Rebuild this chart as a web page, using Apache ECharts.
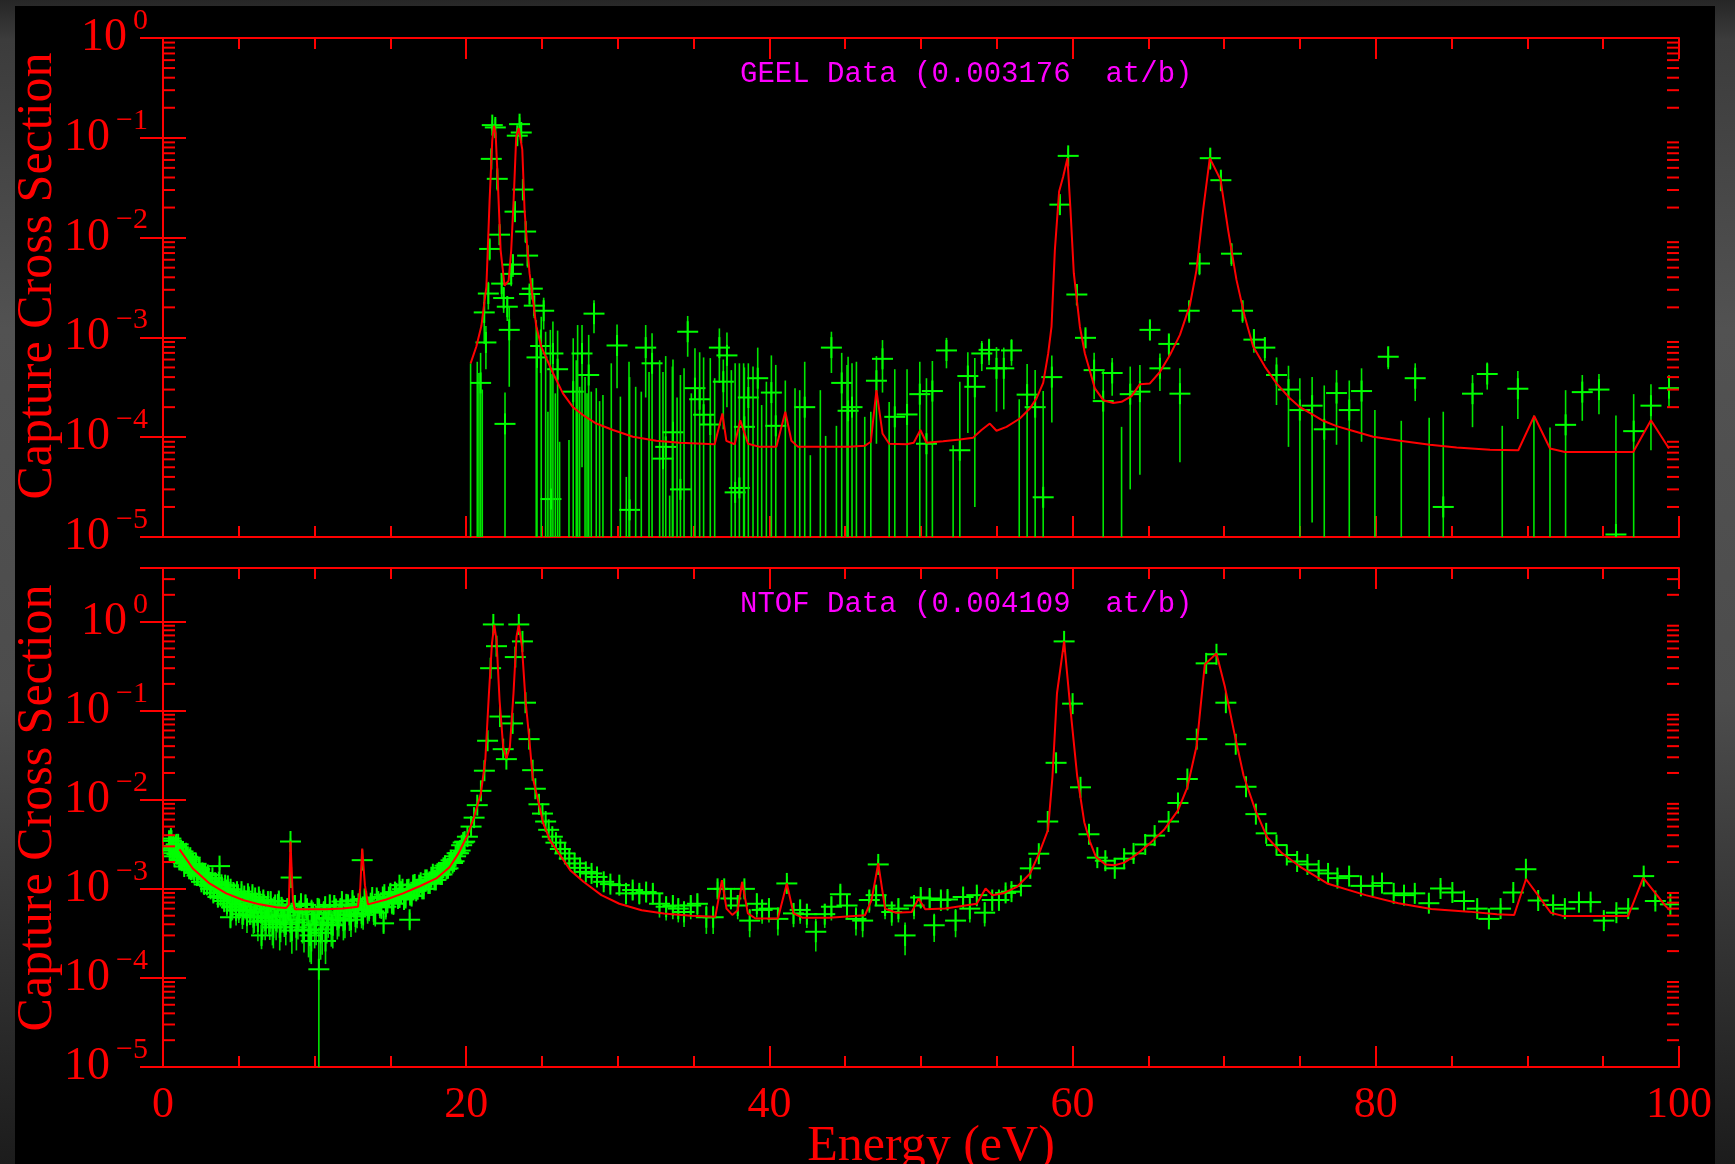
<!DOCTYPE html>
<html><head><meta charset="utf-8">
<script src="https://cdn.jsdelivr.net/npm/echarts@6/dist/echarts.min.js"></script>
<style>
html,body{margin:0;padding:0;width:1735px;height:1164px;overflow:hidden;
background:linear-gradient(to bottom,#262626 0px,#3c3c3c 40px,#525252 330px,#4c4c4c 700px,#1c1c1c 1164px);}
#blk{position:absolute;left:15px;top:6px;width:1700px;height:1158px;background:#000;}
#chart{position:absolute;left:0;top:0;width:1735px;height:1164px;}
</style></head><body><div id="blk"></div><div id="chart"></div>
<script>
// ---------------- GEEL (top panel) data: energy, value, upper end of error bar ----------------
const geelE = [
20.29,20.73,20.84,20.95,21.06,21.19,21.30,21.46,21.545,21.655,
21.72,21.92,22.05,22.20,22.34,22.47,22.56,22.71,22.84,22.97,
23.08,23.22,23.37,23.52,23.63,23.74,23.92,24.05,24.18,24.36,
24.49,24.62,24.67,24.91,24.95,25.11,25.24,25.39,25.55,25.59,
25.72,25.88,26.03,26.16,26.78,27.06,27.26,27.35,27.48,27.64,
27.84,27.97,28.08,28.25,28.43,28.58,28.80,29.02,29.57,29.95,
30.17,30.56,30.74,30.78,31.18,31.55,31.84,32.06,32.26,32.76,
32.98,33.16,33.42,33.60,33.64,33.91,34.13,34.37,34.61,34.85,
35.09,35.40,35.66,36.10,36.39,36.70,36.96,37.20,37.49,37.74,
38.02,38.30,38.35,38.61,38.92,39.23,39.49,39.80,40.13,40.42,
41.05,41.69,42.00,42.33,42.70,43.36,43.71,44.09,44.42,44.77,
45.12,45.19,45.45,45.74,46.29,46.69,47.06,47.46,47.90,48.27,
49.08,49.92,50.36,50.75,51.68,52.12,52.56,53.09,53.55,54.01,
54.49,54.98,55.46,55.97,56.48,57.00,57.53,58.06,58.63,59.16,
59.71,60.28,60.85,61.42,62.02,62.61,63.23,63.80,64.44,65.10,
65.76,66.35,67.08,67.69,68.37,69.08,69.78,70.48,71.21,71.96,
72.68,73.45,74.24,74.99,75.80,76.60,77.41,78.25,79.06,79.94,
80.82,81.68,82.60,83.52,84.45,86.38,87.35,88.34,89.37,90.43,
91.49,92.52,93.62,94.72,95.84,97.01,98.15,99.34];
const geelY = [
0,0,0,3.5e-4,0,1.78e-3,8.9e-4,2.75e-3,7.7e-3,0.0615,
0.134,0.127,0.0388,0.0107,3.46e-3,2.48e-3,1.36e-4,2.03e-3,1.19e-3,4.33e-3,
5.36e-3,0.0182,0.105,0.137,0.113,0.0303,0.0115,6.6e-3,2.72e-3,3.08e-3,
2.08e-3,0,6.3e-4,8.2e-4,0,1.85e-3,0,0,0,2.4e-5,
6.9e-4,0,4.8e-4,0,0,2.86e-4,0,0,0,6.9e-4,
0,0,4.2e-4,0,1.73e-3,0,0,0,0,8.3e-4,
0,0,0,1.87e-5,0,0,7.9e-4,0,5.5e-4,0,
6.1e-5,8.0e-5,0,0,1.12e-4,0,3.0e-5,0,1.14e-3,0,
3.1e-4,2.4e-4,1.68e-4,1.34e-4,0,7.9e-4,3.6e-4,6.6e-4,0,2.8e-5,
3.1e-5,0,1.27e-4,2.5e-4,0,3.9e-4,0,0,2.8e-4,1.3e-4,
0,0,0,2.0e-4,0,0,0,7.9e-4,0,3.5e-4,
0,1.84e-4,2.0e-4,0,0,0,3.68e-4,6.1e-4,0,1.6e-4,
1.69e-4,2.7e-4,8.6e-5,2.9e-4,7.4e-4,0,7.4e-5,4.1e-4,3.2e-4,6.9e-4,
7.5e-4,4.9e-4,4.9e-4,7.4e-4,0,2.67e-4,2.0e-4,2.5e-5,4.0e-4,0.0214,
0.0659,2.69e-3,9.9e-4,4.7e-4,2.3e-4,4.4e-4,0,2.7e-4,2.86e-4,1.19e-3,
4.9e-4,8.6e-4,2.73e-4,1.85e-3,5.5e-3,0.0625,0.0376,6.9e-3,1.85e-3,9.5e-4,
7.9e-4,4.2e-4,3.0e-4,1.87e-4,2.07e-4,1.2e-4,2.77e-4,1.87e-4,2.9e-4,0,
6.4e-4,0,3.9e-4,0,2e-5,2.73e-4,4.3e-4,0,3.06e-4,0,
0,1.33e-4,2.83e-4,3.0e-4,1.06e-5,1.15e-4,2.07e-4,3.1e-4];
const geelHi = [
5.5e-4,5.7e-4,4.4e-4,7e-4,3.0e-4,2.7e-3,1.3e-3,3.6e-3,9.5e-3,0.075,
0.15,0.155,0.048,0.013,4.4e-3,3.2e-3,2.8e-4,2.6e-3,2.06e-3,5.4e-3,
6.7e-3,0.022,0.125,0.16,0.13,0.037,0.0142,8.2e-3,3.3e-3,3.8e-3,
2.6e-3,1.49e-3,1.25e-3,1.2e-3,1.61e-3,2.5e-3,1.14e-3,1.8e-4,1.19e-3,4.3e-4,
1.44e-3,2.75e-4,1.17e-3,9e-5,9.4e-5,9.8e-4,5.9e-4,1.33e-3,3.2e-4,1.33e-3,
4.0e-4,2.75e-4,1.06e-3,2.86e-4,2.36e-3,3.1e-4,2.3e-4,2.64e-4,5.5e-4,1.35e-3,
2.55e-4,4e-5,5.7e-4,4e-4,3.2e-4,2.86e-4,1.33e-3,4.5e-4,1.1e-3,5.9e-4,
4.5e-4,6.5e-4,2.6e-5,5.1e-4,6e-4,2.5e-4,4.2e-4,4.9e-4,1.64e-3,2.75e-4,
7.8e-4,7.1e-4,6.3e-4,6.2e-4,3.9e-4,1.23e-3,6e-4,1.12e-3,4.7e-4,5.5e-4,
5.5e-4,5.5e-4,5e-4,5.5e-4,5.1e-4,7.9e-4,2.1e-4,3.6e-4,6.6e-4,5.3e-4,
3.7e-4,3.1e-4,2.96e-4,5.7e-4,6.6e-5,2.96e-4,1.03e-4,1.14e-3,1.3e-4,7e-4,
5.3e-4,6.4e-4,5.5e-4,5.7e-4,1.6e-4,1.8e-4,6.5e-4,9.4e-4,2.25e-4,4.8e-4,
4.8e-4,5.7e-4,3.9e-4,5.8e-4,9.9e-4,8.3e-5,3.6e-4,7.1e-4,6.2e-4,9.2e-4,
9.7e-4,8e-4,7.9e-4,9.6e-4,2.4e-4,5.4e-4,4.7e-4,2.9e-4,6.6e-4,0.026,
0.078,3.3e-3,1.2e-3,7e-4,4.7e-4,6.2e-4,1.27e-4,5.1e-4,5.3e-4,1.45e-3,
6.9e-4,1.07e-3,4.9e-4,2.3e-3,6.8e-3,0.077,0.046,8.6e-3,2.3e-3,1.2e-3,
1e-3,6.3e-4,5.2e-4,3.9e-4,4.0e-4,3.3e-4,4.7e-4,3.7e-4,4.9e-4,1.87e-4,
8e-4,1.46e-4,5.5e-4,1.57e-4,1.8e-4,4.2e-4,5.6e-4,1.3e-4,4.6e-4,1.65e-4,
1.25e-4,2.96e-4,4.2e-4,4.3e-4,1.65e-4,2.7e-4,3.4e-4,4.2e-4];

// GEEL fitted curve
const geelFitE = [20.29,20.67,21.00,21.33,21.545,21.72,21.83,21.94,22.09,22.27,22.53,22.64,22.80,22.97,23.13,23.30,23.46,23.57,23.70,23.85,
24.01,24.18,24.40,24.62,24.95,25.72,26.38,27.04,27.70,28.58,29.68,31.00,32.54,34.08,36.39,36.90,37.16,37.71,38.08,38.59,
39.36,40.46,41.05,41.45,41.89,45.30,46.29,46.69,47.06,47.46,47.90,49.04,49.52,49.96,50.36,51.46,52.56,53.44,53.99,54.54,
54.98,55.64,56.52,57.18,57.62,58.06,58.39,58.61,58.83,59.11,59.38,59.66,59.86,60.08,60.48,60.81,61.47,62.02,62.68,63.23,
63.89,64.44,65.10,65.76,66.42,67.08,67.74,68.17,68.61,69.05,69.76,70.26,70.81,71.36,71.91,72.68,73.45,74.33,75.00,75.87,
76.53,77.41,78.29,79.83,81.59,83.57,85.33,87.53,89.40,90.45,91.49,92.48,96.98,98.15,99.34];
const geelFitY = [5.5e-4,8.1e-4,1.3e-3,3.2e-3,0.0239,0.095,0.132,0.111,0.0352,7.5e-3,3.3e-3,3.2e-3,3.7e-3,7.5e-3,0.0239,0.103,0.125,0.130,0.076,0.0189,
8.7e-3,4.4e-3,2.4e-3,1.3e-3,8.1e-4,4.4e-4,2.75e-4,2.0e-4,1.67e-4,1.37e-4,1.18e-4,1.01e-4,9.2e-5,8.8e-5,8.5e-5,1.73e-4,9.2e-5,8.5e-5,1.48e-4,8.6e-5,
8.0e-5,8.0e-5,1.8e-4,9.2e-5,8.0e-5,8.0e-5,8.2e-5,9.0e-5,2.96e-4,1.09e-4,8.6e-5,8.5e-5,8.8e-5,1.18e-4,8.8e-5,9.1e-5,9.5e-5,9.9e-5,1.18e-4,1.37e-4,
1.16e-4,1.27e-4,1.54e-4,1.94e-4,2.45e-4,3.5e-4,6.9e-4,1.28e-3,7.5e-3,0.029,0.041,0.0625,0.019,4.4e-3,1.28e-3,6.9e-4,3.08e-4,2.35e-4,2.2e-4,2.26e-4,
2.58e-4,3.4e-4,3.46e-4,4.5e-4,6.65e-4,1.06e-3,2.11e-3,4.7e-3,0.019,0.0625,0.038,0.0119,3.77e-3,1.61e-3,8.1e-4,5.1e-4,3.46e-4,2.45e-4,2.0e-4,1.67e-4,
1.46e-4,1.29e-4,1.18e-4,1.01e-4,9.2e-5,8.4e-5,7.9e-5,7.5e-5,7.4e-5,1.63e-4,7.7e-5,7.1e-5,7.1e-5,1.48e-4,7.7e-5];

// ---------------- NTOF (bottom panel) data: energy, value, relative error ----------------
const ntofE = [
0.40,0.48,0.56,0.64,0.72,0.80,0.88,0.96,1.04,1.12,
1.20,1.28,1.36,1.44,1.52,1.60,1.68,1.76,1.84,1.92,
2.00,2.12,2.24,2.36,2.48,2.60,2.72,2.84,2.96,3.08,
3.20,3.32,3.44,3.56,3.68,3.80,3.92,4.04,4.16,4.28,
4.40,4.52,4.64,4.76,4.88,5.00,5.12,5.24,5.36,5.48,
5.60,5.72,5.84,5.96,6.08,6.20,6.32,6.44,6.56,6.68,
6.80,6.92,7.04,7.16,7.28,7.40,7.52,7.64,7.76,7.88,
8.00,8.20,8.40,8.60,8.80,9.00,9.20,9.40,9.60,9.80,
10.00,10.20,10.40,10.60,10.80,11.00,11.20,11.40,11.60,11.80,
12.00,12.20,12.40,12.60,12.80,13.00,13.20,13.40,13.60,13.80,
14.00,14.20,14.40,14.60,14.80,15.00,15.20,15.40,15.60,15.80,
16.00,16.20,16.40,16.60,16.80,17.00,17.20,17.40,17.60,17.80,
18.00,18.20,18.40,18.60,18.80,19.00,19.20,19.40,19.60,19.80,
8.41,8.45,13.14,10.28,4.45,6.50,9.78,10.72,14.55,16.27,
3.73,15.60,20.08,20.32,20.52,20.73,20.97,21.20,21.41,21.61,
21.79,22.00,22.23,22.44,22.65,23.06,23.24,23.47,23.71,23.91,
24.15,24.38,24.56,24.80,25.03,25.24,25.44,25.68,25.92,26.21,
26.51,26.80,27.15,27.51,27.89,28.27,28.63,29.07,29.51,30.10,
30.54,30.98,31.42,31.87,32.31,32.75,33.19,33.63,33.99,34.37,
34.81,35.25,35.84,36.29,36.58,37.02,37.46,37.91,38.35,38.70,
39.17,39.52,39.97,40.56,41.15,41.59,42.03,42.47,43.06,43.65,
44.09,44.68,45.12,45.71,46.15,46.59,47.04,47.18,47.63,48.07,
48.51,48.95,49.54,49.98,50.57,50.87,51.31,51.75,52.28,52.78,
53.22,53.68,54.20,54.70,55.14,55.58,55.97,56.59,57.21,57.77,
58.36,58.91,59.44,60.00,60.52,61.08,61.63,62.16,62.78,63.40,
64.02,64.79,65.41,66.33,66.95,67.57,68.19,68.81,69.49,70.11,
70.76,71.44,72.09,72.77,73.45,74.13,74.81,75.49,76.23,76.85,
77.47,78.24,79.02,79.79,80.41,81.18,81.86,82.57,83.50,84.27,
85.05,85.82,86.69,87.46,88.23,89.07,89.90,90.71,91.70,92.47,
93.40,94.17,95.04,95.87,96.65,97.67,98.44,99.43,
0.44,0.52,0.60,0.68,0.76,0.84,0.92,1.00,1.08,1.16,
1.24,1.32,1.40,1.48,1.56,1.64,1.72,1.80,1.88,1.96,
2.06,2.18,2.30,2.42,2.54,2.66,2.78,2.90,3.02,3.14,
3.26,3.38,3.50,3.62,3.74,3.86,3.98,4.10,4.22,4.34,
4.46,4.58,4.70,4.82,4.94,5.06,5.18,5.30,5.42,5.54,
5.66,5.78,5.90,6.02,6.14,6.26,6.38,6.50,6.62,6.74,
6.86,6.98,7.10,7.22,7.34,7.46,7.58,7.70,7.82,7.94,
8.1,8.3,8.5,8.7,8.9,9.1,9.3,9.5,9.7,9.9,
10.1,10.3,10.5,10.7,10.9,11.1,11.3,11.5,11.7,11.9,
12.1,12.3,12.5,12.7,12.9,13.1,13.3,13.5,13.7,13.9,
14.1,14.3,14.5,14.7,14.9,15.1,15.3,15.5,15.7,15.9,
16.1,16.3,16.5,16.7,16.9,17.1,17.3,17.5,17.7,17.9,
18.1,18.3,18.5,18.7,18.9,19.1,19.3,19.5,19.7,19.9];
const ntofY = [
3.47e-3,2.88e-3,3.47e-3,2.92e-3,2.51e-3,2.95e-3,3.16e-3,2.48e-3,2.63e-3,2.14e-3,
2.63e-3,2.24e-3,2.43e-3,1.95e-3,2.51e-3,2.04e-3,1.82e-3,2.14e-3,1.64e-3,1.86e-3,
1.66e-3,1.78e-3,1.41e-3,1.74e-3,1.38e-3,1.51e-3,1.12e-3,1.30e-3,1.43e-3,1.07e-3,
1.17e-3,9.0e-4,1.17e-3,9.9e-4,1.19e-3,8.3e-4,1.0e-3,7.3e-4,9.7e-4,1.08e-3,
7.4e-4,6.2e-4,9.1e-4,7.2e-4,9.3e-4,5.9e-4,7.6e-4,5.2e-4,8.3e-4,6.3e-4,
8.8e-4,5.6e-4,6.8e-4,4.8e-4,7.9e-4,5.5e-4,8.1e-4,5.8e-4,4.3e-4,6.6e-4,
4.7e-4,7.2e-4,4.3e-4,6.0e-4,3.7e-4,6.6e-4,4.9e-4,7.3e-4,4.2e-4,5.9e-4,
4.5e-4,6.0e-4,4.2e-4,6.4e-4,3.7e-4,5.5e-4,4.2e-4,6.6e-4,3.4e-4,5.6e-4,
3.9e-4,6.0e-4,3.2e-4,5.4e-4,4.2e-4,6.6e-4,3.9e-4,5.9e-4,4.7e-4,7.2e-4,
4.5e-4,6.6e-4,4.5e-4,6.4e-4,5.3e-4,7.6e-4,5.1e-4,7.2e-4,6.0e-4,8.0e-4,
5.4e-4,7.2e-4,6.2e-4,8.6e-4,7.0e-4,8.9e-4,6.8e-4,8.9e-4,8.0e-4,9.9e-4,
7.9e-4,9.9e-4,8.3e-4,1.12e-3,9.9e-4,1.17e-3,1.0e-3,1.26e-3,1.15e-3,1.46e-3,
1.26e-3,1.53e-3,1.45e-3,1.82e-3,1.70e-3,2.09e-3,2.04e-3,2.51e-3,2.69e-3,3.31e-3,
3.4e-3,1.34e-3,2.1e-3,1.25e-4,4.8e-4,3.0e-4,2.6e-4,2.6e-4,4.1e-4,4.5e-4,
1.8e-3,1.1e-3,3.85e-3,5.0e-3,6.3e-3,8.7e-3,0.0126,0.0212,0.046,0.30,
0.93,0.53,0.086,0.037,0.0286,0.072,0.40,0.93,0.60,0.123,
0.048,0.0215,0.0133,8.9e-3,7.0e-3,5.7e-3,4.6e-3,3.85e-3,3.3e-3,2.8e-3,
2.5e-3,2.19e-3,1.93e-3,1.72e-3,1.55e-3,1.49e-3,1.36e-3,1.2e-3,1.13e-3,1.1e-3,
8.9e-4,9.7e-4,8.9e-4,9.2e-4,8.9e-4,6.8e-4,6.3e-4,6.5e-4,6.0e-4,5.5e-4,
6.5e-4,6.8e-4,4.8e-4,4.8e-4,1.0e-3,1.0e-3,7.8e-4,6.5e-4,1.0e-3,4.4e-4,
6.8e-4,5.8e-4,6.0e-4,4.6e-4,1.15e-3,5.3e-4,5.8e-4,5.2e-4,3.3e-4,5.2e-4,
6.3e-4,8.7e-4,6.5e-4,4.6e-4,4.4e-4,7.5e-4,8.5e-4,1.88e-3,6.5e-4,5.5e-4,
6.0e-4,3.0e-4,6.5e-4,8.0e-4,7.8e-4,3.9e-4,7.5e-4,7.6e-4,4.4e-4,8.1e-4,
6.0e-4,8.5e-4,5.4e-4,7.5e-4,7.5e-4,9.0e-4,9.3e-4,1.08e-3,1.7e-3,2.48e-3,
5.7e-3,0.026,0.60,0.12,0.0138,4.1e-3,2.24e-3,2.07e-3,1.7e-3,2.18e-3,
2.5e-3,3.15e-3,3.96e-3,5.7e-3,9.2e-3,0.0171,0.048,0.34,0.43,0.123,
0.042,0.014,6.9e-3,4.2e-3,3.1e-3,2.4e-3,2.03e-3,1.88e-3,1.61e-3,1.49e-3,
1.32e-3,1.39e-3,1.08e-3,1.08e-3,1.16e-3,8.9e-4,8.5e-4,8.9e-4,6.9e-4,1.01e-3,
9.1e-4,7.3e-4,6.0e-4,4.6e-4,6.0e-4,9.1e-4,1.66e-3,7.4e-4,6.6e-4,6.0e-4,
7.1e-4,7.1e-4,4.4e-4,5.4e-4,6.0e-4,1.39e-3,7.3e-4,6.7e-4,
2.72e-3,3.67e-3,2.69e-3,3.02e-3,2.32e-3,3.05e-3,2.45e-3,3.16e-3,2.11e-3,2.57e-3,
2.07e-3,2.63e-3,1.78e-3,2.32e-3,1.97e-3,2.29e-3,1.68e-3,2.24e-3,1.66e-3,1.88e-3,
1.51e-3,1.91e-3,1.48e-3,1.66e-3,1.20e-3,1.45e-3,1.48e-3,1.11e-3,1.32e-3,1.0e-3,
1.33e-3,1.0e-3,1.15e-3,8.1e-4,1.02e-3,1.11e-3,7.9e-4,1.10e-3,6.8e-4,9.1e-4,
9.9e-4,6.4e-4,8.8e-4,5.7e-4,8.6e-4,6.7e-4,9.3e-4,5.8e-4,7.3e-4,5.0e-4,
8.1e-4,5.8e-4,8.6e-4,5.0e-4,6.9e-4,4.3e-4,7.2e-4,5.4e-4,7.5e-4,4.4e-4,
6.0e-4,4.8e-4,7.2e-4,4.0e-4,6.2e-4,4.4e-4,6.7e-4,3.7e-4,6.2e-4,5.0e-4,
4.0e-4,5.8e-4,3.4e-4,6.5e-4,4.5e-4,6.8e-4,3.5e-4,5.9e-4,3.0e-4,5.2e-4,
4.0e-4,5.8e-4,3.5e-4,6.3e-4,4.7e-4,4.0e-4,6.5e-4,4.5e-4,5.9e-4,4.4e-4,
6.7e-4,5.1e-4,7.4e-4,4.9e-4,6.8e-4,5.3e-4,7.7e-4,5.8e-4,6.9e-4,5.6e-4,
7.9e-4,6.5e-4,8.1e-4,6.3e-4,8.1e-4,7.0e-4,9.2e-4,7.8e-4,9.3e-4,7.6e-4,
9.8e-4,8.5e-4,1.10e-3,9.5e-4,1.10e-3,1.0e-3,1.26e-3,1.15e-3,1.35e-3,1.26e-3,
1.48e-3,1.45e-3,1.72e-3,1.68e-3,1.95e-3,1.95e-3,2.32e-3,2.51e-3,3.09e-3,3.39e-3];
const ntofR = [
0.08,0.1,0.08,0.12,0.1,0.08,0.1,0.12,0.1,0.12,
0.1,0.12,0.1,0.12,0.1,0.12,0.14,0.1,0.14,0.12,
0.12,0.12,0.15,0.12,0.15,0.14,0.18,0.15,0.14,0.18,
0.16,0.2,0.16,0.18,0.16,0.22,0.18,0.25,0.2,0.18,
0.25,0.3,0.2,0.25,0.2,0.3,0.25,0.32,0.22,0.28,
0.22,0.3,0.26,0.35,0.24,0.3,0.22,0.3,0.38,0.28,
0.35,0.25,0.38,0.3,0.42,0.28,0.34,0.26,0.4,0.3,
0.36,0.3,0.4,0.3,0.45,0.35,0.42,0.3,0.5,0.35,
0.45,0.32,0.5,0.35,0.42,0.3,0.45,0.32,0.38,0.28,
0.38,0.28,0.36,0.28,0.32,0.25,0.32,0.25,0.28,0.22,
0.3,0.24,0.26,0.2,0.24,0.2,0.25,0.2,0.22,0.18,
0.2,0.16,0.2,0.15,0.16,0.14,0.16,0.12,0.14,0.12,
0.12,0.1,0.1,0.1,0.1,0.08,0.08,0.08,0.07,0.07,
0.08,0.15,0.1,1.96,0.25,0.3,0.45,0.45,0.2,0.2,
0.1,0.15,0.06,0.06,0.06,0.06,0.06,0.06,0.06,0.06,
0.06,0.06,0.06,0.06,0.06,0.06,0.06,0.06,0.06,0.06,
0.06,0.06,0.06,0.06,0.06,0.07,0.07,0.07,0.08,0.08,
0.08,0.08,0.1,0.1,0.1,0.12,0.12,0.15,0.15,0.15,
0.25,0.22,0.25,0.22,0.25,0.3,0.3,0.3,0.3,0.32,
0.3,0.3,0.35,0.35,0.2,0.2,0.25,0.3,0.2,0.35,
0.3,0.3,0.3,0.35,0.2,0.3,0.3,0.3,0.4,0.3,
0.3,0.25,0.3,0.35,0.35,0.28,0.25,0.15,0.3,0.3,
0.3,0.4,0.3,0.25,0.25,0.35,0.25,0.25,0.35,0.25,
0.3,0.25,0.3,0.25,0.25,0.2,0.15,0.15,0.12,0.1,
0.06,0.06,0.06,0.06,0.06,0.06,0.08,0.08,0.1,0.08,
0.08,0.07,0.07,0.06,0.06,0.06,0.06,0.06,0.06,0.06,
0.06,0.06,0.06,0.06,0.07,0.07,0.08,0.08,0.08,0.08,
0.1,0.1,0.1,0.1,0.1,0.12,0.12,0.12,0.12,0.12,
0.12,0.12,0.12,0.15,0.12,0.12,0.12,0.12,0.12,0.12,
0.12,0.12,0.15,0.12,0.12,0.12,0.12,0.12,
0.1,0.12,0.1,0.1,0.12,0.1,0.12,0.1,0.12,0.1,
0.12,0.1,0.14,0.12,0.12,0.12,0.14,0.12,0.14,0.12,
0.14,0.12,0.15,0.14,0.18,0.15,0.16,0.18,0.16,0.2,
0.16,0.2,0.18,0.24,0.2,0.18,0.24,0.2,0.28,0.22,
0.2,0.3,0.24,0.32,0.24,0.28,0.22,0.32,0.26,0.36,
0.24,0.32,0.24,0.36,0.28,0.4,0.26,0.34,0.26,0.4,
0.3,0.36,0.28,0.42,0.3,0.4,0.3,0.45,0.3,0.36,
0.42,0.32,0.45,0.3,0.4,0.3,0.45,0.34,0.5,0.36,
0.42,0.34,0.48,0.3,0.4,0.44,0.3,0.4,0.34,0.4,
0.3,0.34,0.26,0.34,0.28,0.32,0.25,0.3,0.28,0.3,
0.24,0.28,0.24,0.28,0.24,0.26,0.2,0.24,0.2,0.24,
0.18,0.2,0.16,0.18,0.16,0.16,0.14,0.14,0.12,0.12,
0.12,0.12,0.1,0.1,0.1,0.1,0.08,0.08,0.07,0.07];

// NTOF fitted curve
const ntofFitE = [1.09,1.97,3.07,4.17,5.27,6.37,7.47,8.13,8.30,8.41,8.57,8.70,9.67,10.77,11.87,12.86,13.01,13.14,13.32,13.52,
14.73,15.83,16.93,18.03,18.90,19.49,20.08,20.52,20.97,21.26,21.50,21.70,21.85,22.00,22.20,22.44,22.65,22.88,23.12,23.32,
23.47,23.68,23.91,24.15,24.38,24.74,25.09,25.53,26.12,26.86,27.74,28.92,30.10,31.57,33.04,34.81,36.43,36.87,37.17,37.55,
37.91,38.20,38.58,39.08,40.56,41.15,41.59,42.18,43.94,46.30,46.74,47.18,47.63,48.36,49.39,49.84,50.28,51.60,53.68,54.26,
54.70,55.43,56.32,57.20,57.79,58.38,58.67,58.97,59.44,59.84,60.30,60.77,61.14,61.54,62.16,62.78,63.40,64.17,65.10,66.03,
66.95,67.57,68.19,68.72,69.49,70.05,70.67,71.28,72.06,72.83,73.76,74.99,76.85,79.33,81.49,83.66,86.13,87.99,89.13,89.91,
91.54,92.32,96.65,97.64,99.12,99.43];
const ntofFitY = [2.77e-3,1.69e-3,1.15e-3,8.9e-4,7.5e-4,6.7e-4,6.2e-4,6.1e-4,6.6e-4,3.4e-3,7.5e-4,5.9e-4,5.9e-4,5.9e-4,6.0e-4,6.3e-4,1.02e-3,2.84e-3,1.1e-3,6.7e-4,
7.6e-4,8.9e-4,1.07e-3,1.31e-3,1.75e-3,2.5e-3,4.0e-3,6.4e-3,0.0118,0.028,0.157,0.57,0.92,0.62,0.132,0.039,0.029,0.039,0.157,0.68,
0.92,0.52,0.132,0.051,0.018,9.9e-3,5.4e-3,3.5e-3,2.5e-3,1.62e-3,1.2e-3,8.5e-4,6.8e-4,5.75e-4,5.3e-4,5.0e-4,4.85e-4,1.25e-3,6.0e-4,5.1e-4,
5.75e-4,1.2e-3,5.3e-4,4.65e-4,4.65e-4,1.15e-3,5.3e-4,4.75e-4,4.75e-4,5.05e-4,7.5e-4,1.93e-3,6.0e-4,5.4e-4,5.5e-4,7.8e-4,5.9e-4,6.0e-4,6.8e-4,1.01e-3,
8.5e-4,8.9e-4,1.05e-3,1.49e-3,2.5e-3,4.6e-3,0.018,0.157,0.60,0.112,0.0186,5.6e-3,3.4e-3,2.29e-3,1.88e-3,1.84e-3,1.97e-3,2.4e-3,3.24e-3,4.6e-3,
7.6e-3,0.0138,0.041,0.33,0.44,0.184,0.056,0.0186,7.6e-3,3.8e-3,2.56e-3,1.78e-3,1.14e-3,8.5e-4,6.9e-4,5.95e-4,5.55e-4,5.2e-4,5.1e-4,1.29e-3,
5.4e-4,4.97e-4,4.97e-4,1.33e-3,6.4e-4,5.7e-4];

// axis ranges
const xMin = 0, xMax = 100, xStep = 20;
const geelYMin = 1e-5, geelYMax = 1;
const ntofYMin = 1e-5, ntofYMax = 4;

// ---------------- styling ----------------
const RED = '#ff0000', GREEN = '#00ff00', GREEN_V = '#00e600', MAGENTA = '#ff00ff';
const ARM = 10.5;
const SERIF = '"Liberation Serif", "Times New Roman", serif';
const MONO = '"Liberation Mono", "Courier New", monospace';

const geelData = geelE.map((e, i) => [e, geelY[i], 2 * geelY[i] - geelHi[i], geelHi[i]]);
const ntofData = ntofE.map((e, i) => [e, ntofY[i], ntofY[i] * (1 - ntofR[i]), ntofY[i] * (1 + ntofR[i])]);
const geelFit = geelFitE.map((e, i) => [e, geelFitY[i]]);
const ntofFit = ntofFitE.map((e, i) => [e, ntofFitY[i]]);

function minorVals(ymin, ymax) {
  const out = [];
  const n0 = Math.round(Math.log10(ymin)), n1 = Math.ceil(Math.log10(ymax));
  for (let n = n0; n < n1; n++) for (let k = 2; k <= 9; k++) {
    const v = k * Math.pow(10, n);
    if (v < ymax * 0.999) out.push([50, v]);
  }
  return out;
}

function crossRender(ymin) {
  return function (params, api) {
    const cs = params.coordSys;
    const e = api.value(0), v = api.value(1), lo = api.value(2), hi = api.value(3);
    const bottom = cs.y + cs.height;
    const x = api.coord([e, 1e-3])[0];
    const kids = [];
    const yHi = hi > ymin ? api.coord([e, hi])[1] : bottom;
    const yLo = lo > ymin ? api.coord([e, lo])[1] : bottom;
    if (yHi < bottom) kids.push({type: 'line', shape: {x1: x, y1: yLo, x2: x, y2: yHi}, style: {stroke: GREEN_V, lineWidth: 1.6}});
    if (v > ymin) {
      const yv = api.coord([e, v])[1];
      kids.push({type: 'line', shape: {x1: x - ARM, y1: yv, x2: x + ARM, y2: yv}, style: {stroke: GREEN, lineWidth: 2}});
      kids.push({type: 'line', shape: {x1: x, y1: yv - ARM, x2: x, y2: yv + ARM}, style: {stroke: GREEN, lineWidth: 2}});
    }
    return {type: 'group', children: kids};
  };
}

function minorRender(params, api) {
  const cs = params.coordSys;
  const y = api.coord([50, api.value(1)])[1];
  return {type: 'group', children: [
    {type: 'line', shape: {x1: cs.x, y1: y, x2: cs.x + 12, y2: y}, style: {stroke: RED, lineWidth: 2}},
    {type: 'line', shape: {x1: cs.x + cs.width - 12, y1: y, x2: cs.x + cs.width, y2: y}, style: {stroke: RED, lineWidth: 2}}
  ]};
}

function xAxisDef(grid, pos, labels) {
  return {
    type: 'value', gridIndex: grid, position: pos, min: xMin, max: xMax, interval: xStep,
    splitLine: {show: false},
    axisLine: {onZero: false, lineStyle: {color: RED, width: 2}},
    axisTick: {inside: true, length: 21, lineStyle: {color: RED, width: 2}},
    minorTick: {show: true, splitNumber: 4, length: 11, lineStyle: {color: RED, width: 2}},
    axisLabel: labels ? {show: true, margin: 16, color: RED, fontFamily: SERIF, fontSize: 44, lineHeight: 44} : {show: false}
  };
}
function yLabel(v) {
  const l = Math.log10(v), n = Math.round(l);
  if (Math.abs(l - n) > 1e-6) return '';
  return '{b|10}{s|' + (n < 0 ? '\u2212' + (-n) : String(n)) + '}';
}
function yAxisDef(grid, pos, ymin, ymax, labels) {
  return {
    type: 'log', logBase: 10, gridIndex: grid, position: pos, min: ymin, max: ymax,
    splitLine: {show: false},
    axisLine: {lineStyle: {color: RED, width: 2}},
    axisTick: {inside: true, length: 23, lineStyle: {color: RED, width: 2}},
    axisLabel: labels ? {
      show: true, margin: 15, formatter: yLabel,
      rich: {
        b: {fontFamily: SERIF, fontSize: 46, color: RED, lineHeight: 64, verticalAlign: 'middle'},
        s: {fontFamily: SERIF, fontSize: 30, color: RED, lineHeight: 30, verticalAlign: 'top', padding: [0, 0, 0, 6]}
      }
    } : {show: false}
  };
}

const chart = echarts.init(document.getElementById('chart'), null, {renderer: 'canvas'});
chart.setOption({
  animation: false,
  backgroundColor: 'transparent',
  grid: [
    {left: 163, top: 38, width: 1516, height: 499, containLabel: false},
    {left: 163, top: 568, width: 1516, height: 499, containLabel: false}
  ],
  xAxis: [xAxisDef(0, 'bottom', false), xAxisDef(0, 'top', false), xAxisDef(1, 'bottom', true), xAxisDef(1, 'top', false)],
  yAxis: [yAxisDef(0, 'left', geelYMin, geelYMax, true), yAxisDef(0, 'right', geelYMin, geelYMax, false),
          yAxisDef(1, 'left', ntofYMin, ntofYMax, true), yAxisDef(1, 'right', ntofYMin, ntofYMax, false)],
  series: [
    {type: 'custom', xAxisIndex: 0, yAxisIndex: 0, data: minorVals(geelYMin, geelYMax), encode: {x: 0, y: 1}, renderItem: minorRender, silent: true, z: 5},
    {type: 'custom', xAxisIndex: 2, yAxisIndex: 2, data: minorVals(ntofYMin, ntofYMax), encode: {x: 0, y: 1}, renderItem: minorRender, silent: true, z: 5},
    {type: 'custom', name: 'GEEL', xAxisIndex: 0, yAxisIndex: 0, data: geelData, encode: {x: 0, y: 1}, renderItem: crossRender(geelYMin), clip: true, silent: true, z: 2},
    {type: 'custom', name: 'NTOF', xAxisIndex: 2, yAxisIndex: 2, data: ntofData, encode: {x: 0, y: 1}, renderItem: crossRender(ntofYMin), clip: true, silent: true, z: 2},
    {type: 'line', name: 'GEEL fit', xAxisIndex: 0, yAxisIndex: 0, data: geelFit, symbol: 'none', clip: true, lineStyle: {color: RED, width: 2}, z: 3, silent: true},
    {type: 'line', name: 'NTOF fit', xAxisIndex: 2, yAxisIndex: 2, data: ntofFit, symbol: 'none', clip: true, lineStyle: {color: RED, width: 2}, z: 3, silent: true}
  ],
  graphic: [
    {type: 'text', x: 38, y: 276, rotation: Math.PI / 2, style: {text: 'Capture Cross Section', fill: RED, font: '50px ' + SERIF, textAlign: 'center', align: 'center', textVerticalAlign: 'middle', verticalAlign: 'middle'}},
    {type: 'text', x: 38, y: 808, rotation: Math.PI / 2, style: {text: 'Capture Cross Section', fill: RED, font: '50px ' + SERIF, textAlign: 'center', align: 'center', textVerticalAlign: 'middle', verticalAlign: 'middle'}},
    {type: 'text', x: 931, y: 1147, style: {text: 'Energy (eV)', fill: RED, font: '50px ' + SERIF, textAlign: 'center', align: 'center', textVerticalAlign: 'middle', verticalAlign: 'middle'}},
    {type: 'text', x: 740, y: 74, style: {text: 'GEEL Data (0.003176  at/b)', fill: MAGENTA, font: '29px ' + MONO, textAlign: 'left', align: 'left', textVerticalAlign: 'middle', verticalAlign: 'middle'}},
    {type: 'text', x: 740, y: 604, style: {text: 'NTOF Data (0.004109  at/b)', fill: MAGENTA, font: '29px ' + MONO, textAlign: 'left', align: 'left', textVerticalAlign: 'middle', verticalAlign: 'middle'}}
  ]
});
</script></body></html>
